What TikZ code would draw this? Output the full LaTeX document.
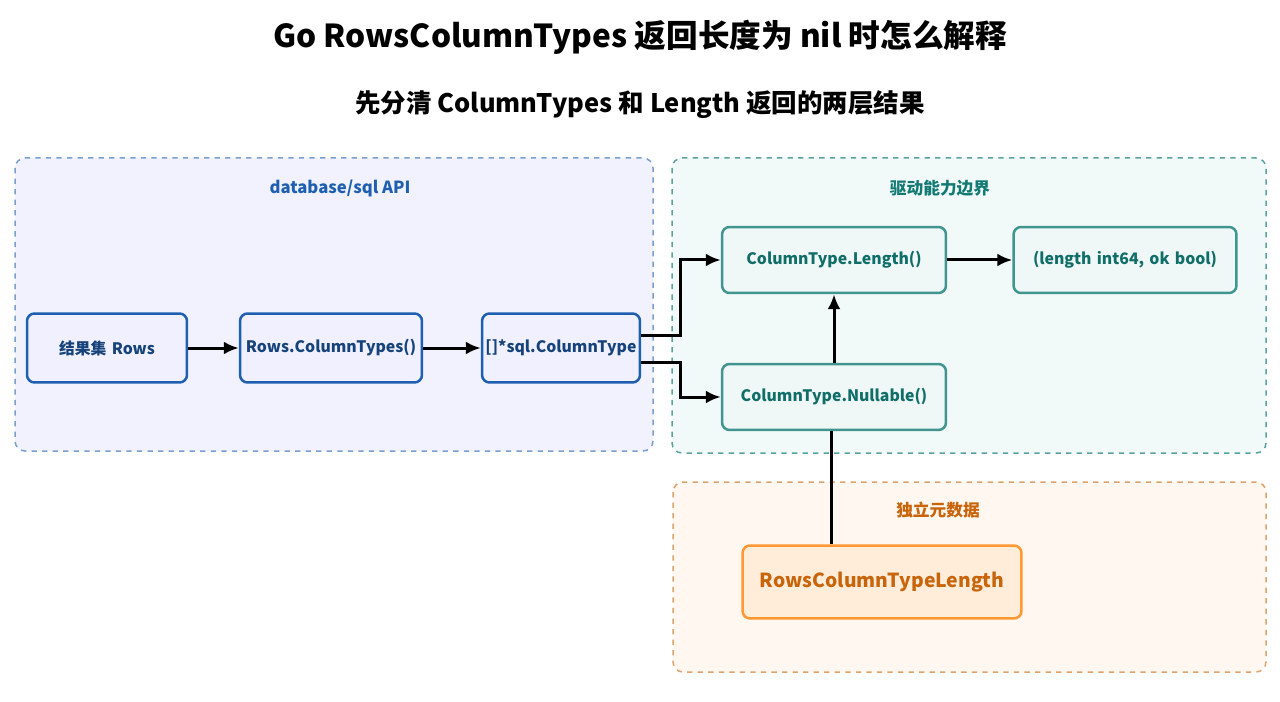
\documentclass[tikz,border=0pt]{standalone}
\usepackage{fontspec}
\setmainfont{Noto Sans CJK SC}
\usetikzlibrary{arrows.meta, positioning, calc}
\definecolor{apiblue}{HTML}{1F5FAF}
\definecolor{drvteal}{HTML}{127A73}
\definecolor{metaorange}{HTML}{C8640A}
\begin{document}
\begin{tikzpicture}[x=0.02cm, y=-0.02cm,
	box/.style = {draw, line width=0.5mm, rounded corners=1.5mm, font=\bfseries\fontsize{9}{11}\selectfont, align=center, inner sep=0pt},
	apinode/.style = {box, color=apiblue, fill=blue!6, text=apiblue!70!black},
	drvnode/.style = {box, color=drvteal!80, fill=teal!6, text=drvteal!90!black},
	group/.style = {draw, dashed, line width=0.3mm, rounded corners=2mm},
	grouplabel/.style = {font=\bfseries\fontsize{9.5}{11}\selectfont},
	conn/.style = {-{Latex[length=3mm,width=2.6mm]}, line width=0.6mm}]
	\useasboundingbox (0,0) rectangle (1280,702);
	% titles
	\node[font=\bfseries\fontsize{18}{20}\selectfont] (title) at (640,37) {Go RowsColumnTypes 返回长度为 nil 时怎么解释};
	\node[font=\bfseries\fontsize{14.5}{16}\selectfont] (subtitle) at (640,105) {先分清 ColumnTypes 和 Length 返回的两层结果};
	% groups
	\draw[group, color=apiblue!60, fill=blue!5] (15,158) rectangle (653,451);
	\draw[group, color=drvteal!70, fill=teal!5] (672,158) rectangle (1266,453);
	\draw[group, color=metaorange!60, fill=orange!6] (673,482) rectangle (1266,672);
	\node[grouplabel, text=apiblue] (labAPI) at (340,188) {database/sql API};
	\node[grouplabel, text=drvteal] (labDrv) at (940,188) {驱动能力边界};
	\node[grouplabel, text=metaorange] (labMeta) at (938,510) {独立元数据};
	% nodes
	\node[apinode, text width=2.9cm, minimum width=3.2cm, minimum height=1.38cm] (rows) at (107,348) {结果集 Rows};
	\node[apinode, text width=3.5cm, minimum width=3.64cm, minimum height=1.38cm] (coltypes) at (331,348) {Rows.ColumnTypes()};
	\node[apinode, text width=3.1cm, minimum width=3.16cm, minimum height=1.38cm] (sqltype) at (561,348) {[]*sql.ColumnType};
	\node[drvnode, text width=4.4cm, minimum width=4.48cm, minimum height=1.32cm] (length) at (834,260) {ColumnType.Length()};
	\node[drvnode, text width=4.4cm, minimum width=4.46cm, minimum height=1.32cm] (result) at (1125,260) {(length int64, ok bool)};
	\node[drvnode, text width=4.4cm, minimum width=4.48cm, minimum height=1.32cm] (nullable) at (834,397) {ColumnType.Nullable()};
	\node[box, color=orange!80, fill=orange!15, text=metaorange, font=\bfseries\fontsize{11}{13}\selectfont, text width=5.5cm, minimum width=5.58cm, minimum height=1.46cm] (rctl) at (882,582) {RowsColumnTypeLength};
	% connectors
	\draw[conn] (rows) -- (coltypes);
	\draw[conn] (coltypes) -- (sqltype);
	\draw[conn] ($(sqltype.east)+(0,-13)$) -| (680,260) -- (length.west);
	\draw[conn] ($(sqltype.east)+(0,14)$) -| (680,397) -- (nullable.west);
	\draw[conn] (length) -- (result);
	\draw[conn] (nullable) -- (length);
	\draw[line width=0.6mm] (rctl.north -| 831,0) -- (nullable.south -| 831,0);
\end{tikzpicture}
\end{document}
